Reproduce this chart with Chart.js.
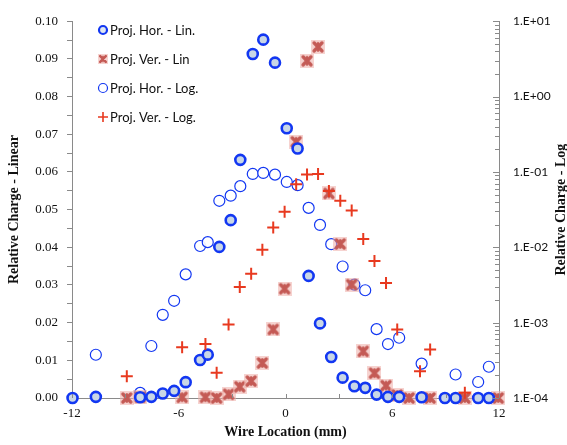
<!DOCTYPE html>
<html lang="en">
<head>
  <meta charset="UTF-8" />
  <title>Wire scan - relative charge</title>
  <script src="https://cdn.jsdelivr.net/npm/chart.js"></script>
  <style>
    html, body { margin: 0; padding: 0; background: #fff; }
    .chart-container { position: relative; width: 567px; height: 445px; }
  </style>
</head>
<body>
  <div class="chart-container">
    <canvas id="wireChart"></canvas>
  </div>
  <script>
    // wire positions (mm) for each projection
    const xHor = [-11.97, -10.66, -8.17, -7.54, -6.90, -6.26, -5.61, -4.80, -4.37, -3.72, -3.08, -2.54, -1.84, -1.25, -0.59,
      0.07, 0.68, 1.30, 1.94, 2.57, 3.21, 3.87, 4.48, 5.12, 5.76, 6.39, 7.65, 8.96, 9.56, 10.83, 11.43];
    const horLin = [0.0, 0.0003, 0.0002, 0.0003, 0.0012, 0.0019, 0.0042, 0.0101, 0.0115, 0.0401, 0.0472, 0.0632, 0.0913, 0.0951, 0.0890,
      0.0716, 0.0662, 0.0324, 0.0198, 0.0109, 0.0054, 0.0031, 0.0027, 0.0009, 0.0003, 0.0003, 0.0002, 0.0, 0.0, 0.0, 0.0];
    const horLog = [null, 0.000375, 0.000117, 0.00049, 0.00127, 0.00195, 0.00437, 0.0104, 0.0117, 0.0414, 0.0484, 0.0647, 0.094, 0.097, 0.092,
      0.0736, 0.0667, 0.0333, 0.0198, 0.011, 0.00556, 0.0032, 0.00269, 0.00082, 0.00052, 0.00063, 0.000286, null, 0.000205, 0.000163, 0.00026];

    const xVer = [-8.92, -8.17, -5.81, -4.50, -3.87, -3.20, -2.57, -1.93, -1.30, -0.69, -0.05, 0.60, 1.21, 1.83, 2.44,
      3.08, 3.72, 4.37, 5.00, 5.65, 6.28, 6.95, 7.56, 8.13, 10.08, 11.96];
    const verLin = [0.0, 0.0002, 0.0002, 0.0002, 0.0, 0.0010, 0.0030, 0.0045, 0.0093, 0.0182, 0.0290, 0.0680, 0.0895, 0.0932, 0.0543,
      0.0409, 0.0301, 0.0124, 0.0066, 0.0033, 0.0008, 0.0, null, 0.0, 0.0, 0.0];
    const verLog = [0.000195, null, 0.00047, 0.00052, 0.000216, 0.000944, 0.00297, 0.00446, 0.0093, 0.0183, 0.0295, 0.0687, 0.0925, 0.094, 0.0557,
      0.0414, 0.0307, 0.0129, 0.00656, 0.00337, 0.00081, null, 0.000226, 0.00044, 0.000117, null];

    const seriesNames = ['Proj. Hor. - Lin.', 'Proj. Ver. - Lin', 'Proj. Hor. - Log.', 'Proj. Ver. - Log.'];
    const xTicks = [-12, -9, -6, -3, 0, 3, 6, 9, 12];

    const BLUE = '#1237f2';
    const PINK = '#c45a55';
    const RED = '#e8391f';
    const SERIF = '"Times New Roman", "Liberation Serif", serif';

    function pairs(xs, ys) {
      return xs.map((x, i) => ({ x: x, y: ys[i] }));
    }

    // excel style "star" marker (x with a vertical bar) on a soft pink square
    function starMarker(size) {
      const c = document.createElement('canvas');
      c.width = size; c.height = size;
      const g = c.getContext('2d');
      g.fillStyle = 'rgba(238, 175, 170, 0.55)';
      g.fillRect(0, 0, size, size);
      g.strokeStyle = PINK;
      g.lineCap = 'round';
      g.lineWidth = size / 4;
      const p = size * 0.22, q = size - p;
      g.beginPath();
      g.moveTo(p, p); g.lineTo(q, q);
      g.moveTo(q, p); g.lineTo(p, q);
      g.stroke();
      g.lineWidth = size / 7;
      g.beginPath();
      g.moveTo(size / 2, p); g.lineTo(size / 2, q);
      g.stroke();
      return c;
    }
    const starBig = starMarker(14);
    const starSmall = starMarker(10);

    function fmtExp(v) {
      const e = Math.round(Math.log10(v));
      const s = e < 0 ? '-' : '+';
      return '1.E' + s + String(Math.abs(e)).padStart(2, '0');
    }

    // legend, inward ticks and right title drawn by hand
    const extras = {
      id: 'extras',
      afterDraw(chart) {
        const ctx = chart.ctx;
        ctx.save();
        // right log axis ticks, pointing into the plot
        const y2 = chart.scales.y2;
        ctx.strokeStyle = '#8a8a8a';
        ctx.lineWidth = 1;
        y2.ticks.forEach(t => {
          const py = Math.round(y2.getPixelForValue(t.value)) + 0.5;
          const major = t.label !== '';
          ctx.beginPath();
          ctx.moveTo(y2.left, py);
          ctx.lineTo(y2.left - (major ? 6 : 4), py);
          ctx.stroke();
        });
        // bottom axis ticks, pointing up
        const xs = chart.scales.x;
        xs.ticks.forEach(t => {
          const px = Math.round(xs.getPixelForValue(t.value)) + 0.5;
          ctx.beginPath();
          ctx.moveTo(px, xs.top);
          ctx.lineTo(px, xs.top - 4);
          ctx.stroke();
        });

        // right title, reading bottom to top
        ctx.translate(561, (chart.chartArea.top + chart.chartArea.bottom) / 2);
        ctx.rotate(-Math.PI / 2);
        ctx.font = 'bold 14px ' + SERIF;
        ctx.fillStyle = '#111';
        ctx.textAlign = 'center';
        ctx.textBaseline = 'middle';
        ctx.fillText('Relative Charge - Log', 0, 0);
        ctx.restore();

        // legend
        ctx.save();
        ctx.font = '13px Lato';
        ctx.textBaseline = 'middle';
        chart.data.datasets.forEach((ds, i) => {
          const mx = 103, my = 30 + i * 29;
          if (i === 0) {
            ctx.beginPath(); ctx.arc(mx, my, 4, 0, Math.PI * 2);
            ctx.fillStyle = '#dfe7f0'; ctx.fill();
            ctx.strokeStyle = BLUE; ctx.lineWidth = 2.2; ctx.stroke();
          } else if (i === 1) {
            ctx.drawImage(starSmall, mx - 5, my - 5);
          } else if (i === 2) {
            ctx.beginPath(); ctx.arc(mx, my, 4.5, 0, Math.PI * 2);
            ctx.strokeStyle = BLUE; ctx.lineWidth = 1.2; ctx.stroke();
          } else {
            ctx.beginPath();
            ctx.moveTo(mx - 5, my); ctx.lineTo(mx + 5, my);
            ctx.moveTo(mx, my - 5); ctx.lineTo(mx, my + 5);
            ctx.strokeStyle = RED; ctx.lineWidth = 1.6; ctx.stroke();
          }
          ctx.fillStyle = '#111';
          ctx.fillText(ds.label, 110, my + 1);
        });
        ctx.restore();
      }
    };

    const ctx = document.getElementById('wireChart').getContext('2d');
    const wireChart = new Chart(ctx, {
      type: 'scatter',
      data: {
        datasets: [
          {
            label: seriesNames[0],
            data: pairs(xHor, horLin),
            yAxisID: 'y',
            pointStyle: 'circle',
            pointRadius: 5,
            pointBorderWidth: 2.6,
            borderColor: BLUE,
            backgroundColor: '#c9d7e6',
            clip: false,
            order: 1
          },
          {
            label: seriesNames[1],
            data: pairs(xVer, verLin),
            yAxisID: 'y',
            pointStyle: starBig,
            clip: false,
            order: 2
          },
          {
            label: seriesNames[2],
            data: pairs(xHor, horLog),
            yAxisID: 'y2',
            pointStyle: 'circle',
            pointRadius: 5.5,
            pointBorderWidth: 1.2,
            borderColor: BLUE,
            backgroundColor: 'rgba(255,255,255,0.9)',
            clip: false,
            order: 3
          },
          {
            label: seriesNames[3],
            data: pairs(xVer, verLog),
            yAxisID: 'y2',
            pointStyle: 'cross',
            pointRadius: 6,
            pointBorderWidth: 2,
            borderColor: RED,
            backgroundColor: RED,
            clip: false,
            order: 0
          }
        ]
      },
      options: {
        responsive: true,
        maintainAspectRatio: false,
        animation: false,
        layout: { padding: { top: 12 } },
        plugins: {
          legend: { display: false },
          tooltip: { enabled: false }
        },
        scales: {
          x: {
            type: 'linear',
            min: -12,
            max: 12,
            afterFit: s => { s.height = 47; },
            afterBuildTicks: s => { s.ticks = xTicks.map(v => ({ value: v })); },
            border: { color: '#8a8a8a', width: 1 },
            grid: { display: true, drawOnChartArea: false, drawTicks: false },
            ticks: {
              autoSkip: false,
              maxRotation: 0,
              padding: 8,
              color: '#111',
              font: { family: SERIF, size: 13 },
              callback: v => (v % 6 === 0 ? String(v) : '')
            },
            title: {
              display: true,
              text: 'Wire Location (mm)',
              color: '#111',
              padding: { top: 0, bottom: 4 },
              font: { family: SERIF, size: 14, weight: 'bold' }
            }
          },
          y: {
            type: 'linear',
            position: 'left',
            min: 0,
            max: 0.1,
            afterFit: s => { s.width = 72; },
            border: { color: '#8a8a8a', width: 1 },
            grid: { drawOnChartArea: false, tickLength: 5, color: '#8a8a8a' },
            ticks: {
              stepSize: 0.005,
              autoSkip: false,
              padding: 9,
              color: '#111',
              font: { family: SERIF, size: 13 },
              callback: v => (Math.round(v * 1000) % 10 === 0 ? v.toFixed(2) : '')
            },
            title: {
              display: true,
              text: 'Relative Charge - Linear',
              color: '#111',
              padding: { top: 6, bottom: 0 },
              font: { family: SERIF, size: 14, weight: 'bold' }
            }
          },
          y2: {
            type: 'logarithmic',
            position: 'right',
            min: 0.0001,
            max: 10,
            afterFit: s => { s.width = 68; },
            afterBuildTicks: s => {
              const t = [];
              for (let e = -4; e <= 0; e++) {
                for (let m = 1; m <= 9; m++) t.push({ value: m * Math.pow(10, e) });
              }
              t.push({ value: 10 });
              s.ticks = t;
            },
            border: { color: '#8a8a8a', width: 1 },
            grid: { drawOnChartArea: false, drawTicks: false },
            ticks: {
              autoSkip: false,
              padding: 14,
              color: '#111',
              font: { family: 'Lato', size: 12 },
              callback: v => {
                const l = Math.log10(v);
                return Math.abs(l - Math.round(l)) < 1e-6 ? fmtExp(v) : '';
              }
            }
          }
        }
      },
      plugins: [extras]
    });
  </script>
</body>
</html>
